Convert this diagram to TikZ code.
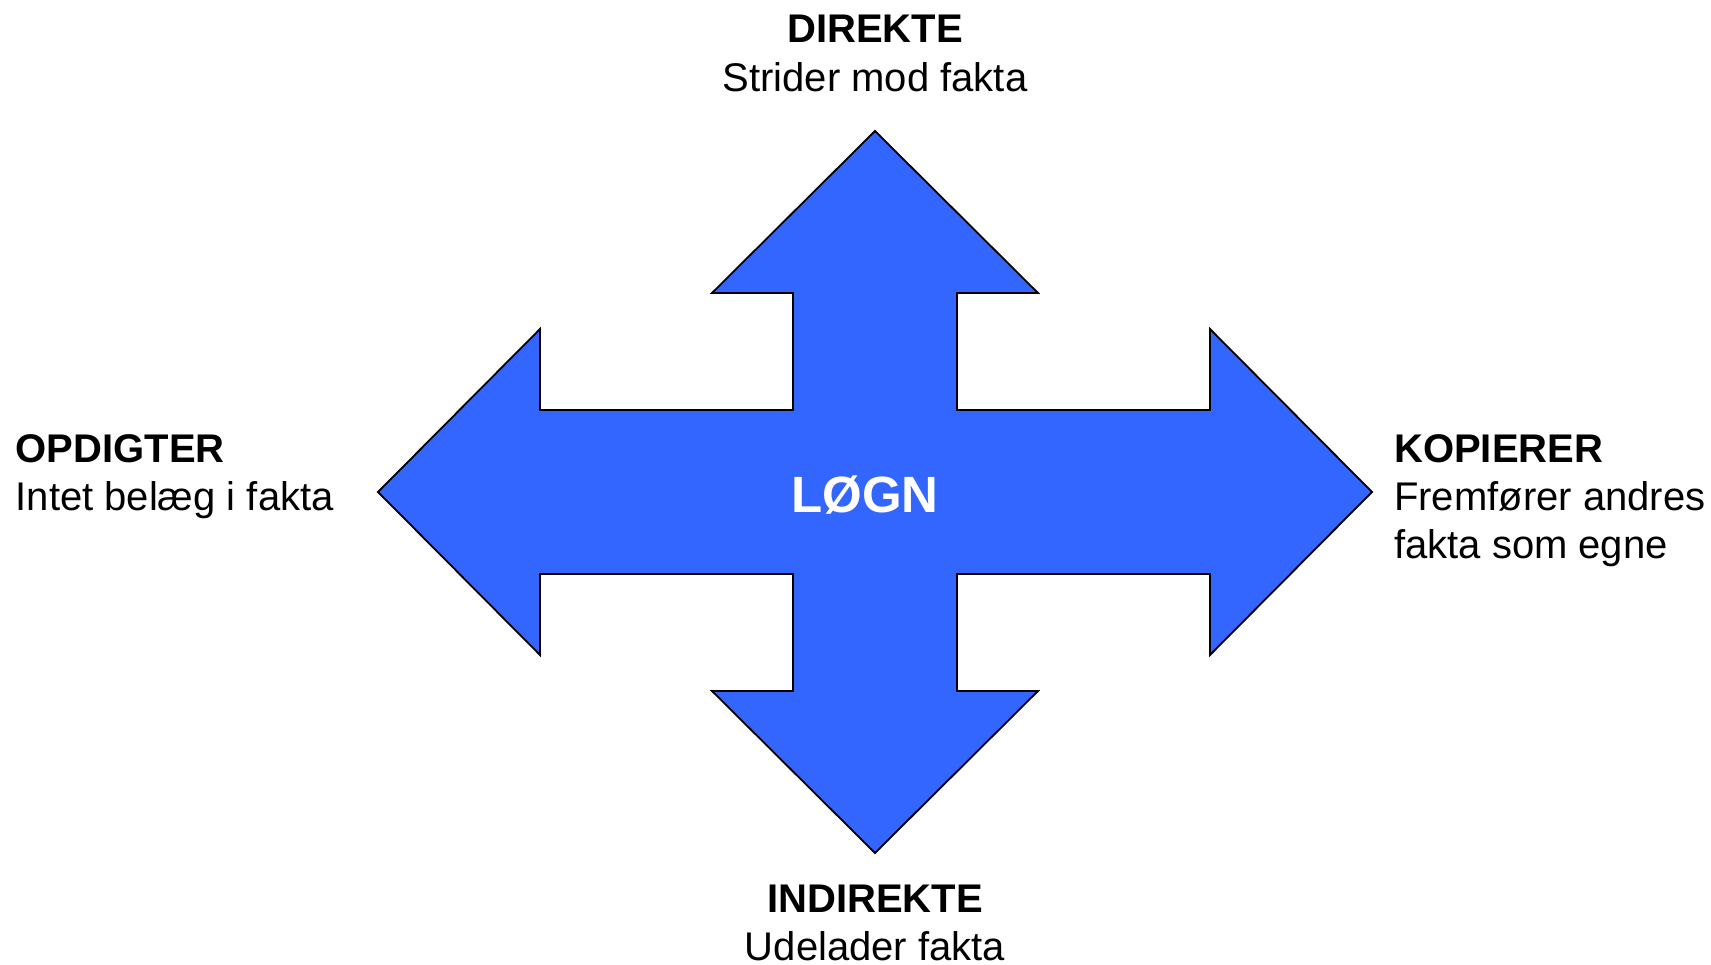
\documentclass[tikz,border=0pt]{standalone}
\usepackage{fontspec}
\setmainfont{Liberation Sans}
\definecolor{arrowblue}{RGB}{51,102,255}
\begin{document}
\begin{tikzpicture}[x=1pt,y=-1pt,
  lbl/.style={inner sep=0pt,font=\fontsize{40}{48}\selectfont},
  ttl/.style={inner sep=0pt,font=\fontsize{40}{48}\selectfont\bfseries},
  crossarrow/.style={fill=arrowblue,draw=black,line width=1.8pt,line join=miter}]
\useasboundingbox (0,0) rectangle (1711,965);
% four-way arrow
\draw[crossarrow] (875,131) -- (1038,293) -- (957,293) -- (957,410) -- (1210,410)
  -- (1210,329) -- (1372,492) -- (1210,655) -- (1210,574) -- (957,574)
  -- (957,691) -- (1038,691) -- (875,853) -- (712,691) -- (793,691)
  -- (793,574) -- (540,574) -- (540,655) -- (378,492) -- (540,329)
  -- (540,410) -- (793,410) -- (793,293) -- (712,293) -- cycle;
\node[inner sep=0pt,anchor=base,text=white,font=\fontsize{51}{60}\selectfont\bfseries] (center) at (865,512) {LØGN};
% top
\node[ttl,anchor=base] (topT) at (875,43) {DIREKTE};
\node[lbl,anchor=base] (topS) at (875,91.5) {Strider mod fakta};
% bottom
\node[ttl,anchor=base] (botT) at (875,912) {INDIREKTE};
\node[lbl,anchor=base] (botS) at (875,960) {Udelader fakta};
% left
\node[ttl,anchor=base west] (leftT) at (15.5,462.5) {OPDIGTER};
\node[lbl,anchor=base west] (leftS) at (15.5,510.5) {Intet belæg i fakta};
% right
\node[ttl,anchor=base west] (rightT) at (1394,462.5) {KOPIERER};
\node[lbl,anchor=base west] (rightS) at (1394,510.5) {Fremfører andres};
\node[lbl,anchor=base west] (rightU) at (1394,558.5) {fakta som egne};
\end{tikzpicture}
\end{document}
